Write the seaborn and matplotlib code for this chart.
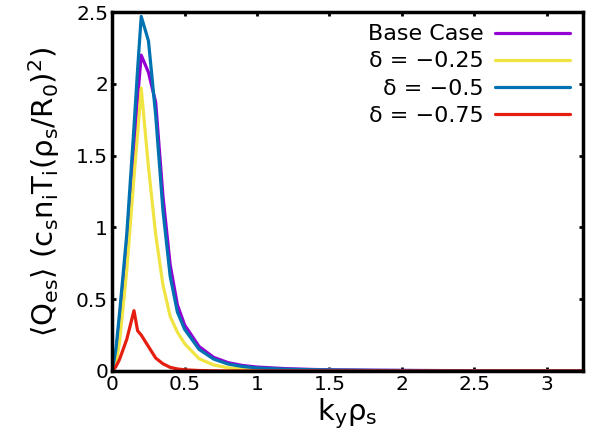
import pandas as pd
import seaborn as sns
import matplotlib.pyplot as plt

# k_y rho_s grid
ky = [0, 0.025, 0.05, 0.1, 0.15, 0.175, 0.2, 0.25, 0.3, 0.35, 0.4, 0.45, 0.5,
      0.6, 0.7, 0.8, 0.9, 1.0, 1.2, 1.4, 1.6, 1.8, 2.0, 2.2, 2.4, 2.6, 2.8, 3.0, 3.25]

# heat flux spectra
base_case = [0, 0.12, 0.35, 0.9, 1.55, 1.9, 2.2, 2.08, 1.87, 1.22, 0.74, 0.46, 0.32,
             0.17, 0.095, 0.058, 0.038, 0.027, 0.016, 0.01, 0.007, 0.005, 0.004, 0.003, 0.002, 0.002, 0.001, 0.001, 0.001]
delta_m025 = [0, 0.05, 0.2, 0.7, 1.35, 1.65, 1.97, 1.42, 0.95, 0.6, 0.38, 0.27, 0.19,
              0.085, 0.042, 0.022, 0.014, 0.01, 0.006, 0.004, 0.003, 0.002, 0.002, 0.001, 0.001, 0.001, 0.001, 0.001, 0.001]
delta_m05 = [0, 0.15, 0.4, 0.95, 1.7, 2.1, 2.47, 2.3, 1.78, 1.12, 0.66, 0.41, 0.29,
             0.15, 0.083, 0.048, 0.031, 0.021, 0.012, 0.008, 0.006, 0.004, 0.003, 0.002, 0.002, 0.001, 0.001, 0.001, 0.001]
delta_m075 = [0, 0.03, 0.08, 0.22, 0.42, 0.28, 0.25, 0.17, 0.09, 0.05, 0.025, 0.014, 0.008,
              0.003, 0.001, 0, 0, 0, 0, 0, 0, 0, 0, 0, 0, 0, 0, 0, 0]

labels = ['Base Case', 'δ = −0.25', 'δ = −0.5', 'δ = −0.75']
colors = ['#9400d3', '#f0e442', '#0072b2', '#e51e10']

frames = []
for lab, vals in zip(labels, [base_case, delta_m025, delta_m05, delta_m075]):
    frames.append(pd.DataFrame({'ky': ky, 'Q': vals, 'case': lab}))
df = pd.concat(frames, ignore_index=True)

sns.set_style('ticks')
plt.rcParams['font.family'] = ['DejaVu Sans']
plt.rcParams['mathtext.default'] = 'regular'
plt.rcParams['text.color'] = 'black'
plt.rcParams['axes.labelcolor'] = 'black'

fig = plt.figure(figsize=(5.94, 4.48), dpi=100)
ax = fig.add_axes([0.189, 0.172, 0.792, 0.801])

sns.lineplot(data=df, x='ky', y='Q', hue='case', hue_order=labels,
             palette=colors, linewidth=2.3, ax=ax)

ax.set_xlim(0, 3.25)
ax.set_ylim(0, 2.5)
ax.set_xticks([0, 0.5, 1, 1.5, 2, 2.5, 3])
ax.set_xticklabels(['0', '0.5', '1', '1.5', '2', '2.5', '3'])
ax.set_yticks([0, 0.5, 1, 1.5, 2, 2.5])
ax.set_yticklabels(['0', '0.5', '1', '1.5', '2', '2.5'])
ax.tick_params(direction='in', length=3, width=2, labelsize=14.5,
               colors='black', top=True, right=True, pad=3)
for sp in ax.spines.values():
    sp.set_linewidth(2.5)
    sp.set_color('black')

ax.set_xlabel(r'$k_y\rho_s$', fontsize=21, labelpad=2)
ax.set_ylabel(r'$\langle Q_{es}\rangle\ (c_s n_i T_i(\rho_s/R_0)^2)$', fontsize=21, labelpad=10)

ax.legend(frameon=False, loc='upper right', markerfirst=False, fontsize=16,
          handlelength=3.4, labelspacing=0.32, borderaxespad=0.15, handletextpad=0.5)

fig.savefig('out.png', dpi=100)
